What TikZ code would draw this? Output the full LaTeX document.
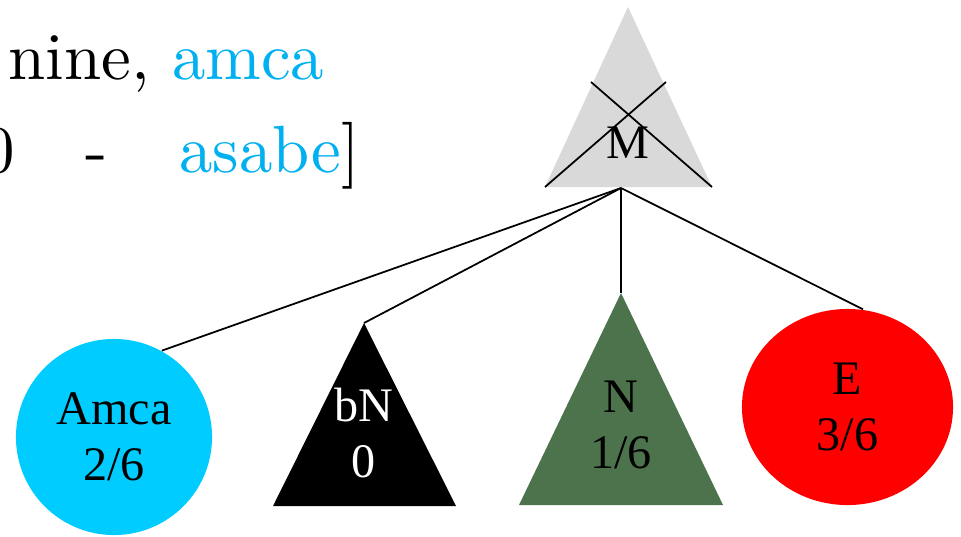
\documentclass[tikz,border=0pt]{standalone}
\usepackage{fontspec}
\newfontfamily\shapefont{Liberation Serif}
\newfontfamily\topfont{lmroman10-regular.otf}
\usetikzlibrary{shapes,positioning}
\definecolor{amcablue}{RGB}{0,176,240}
\definecolor{amcafill}{RGB}{0,204,255}
\definecolor{mgray}{RGB}{217,217,217}
\definecolor{ngreen}{RGB}{77,115,77}

\begin{document}
\begin{tikzpicture}[
    x=0.01cm, y=-0.01cm,
    shapetext/.style={font={\shapefont\fontsize{13.7pt}{16pt}\selectfont}, align=center, inner sep=0pt},
    toptext/.style={font={\topfont\fontsize{19pt}{23pt}\selectfont}, inner sep=0pt, anchor=base west},
    disc/.style={circle, shapetext, fill=amcafill, minimum size=1.96cm},
    oval/.style={ellipse, shapetext, fill=red, minimum width=2.11cm, minimum height=1.96cm},
    branch/.style={draw, line width=0.5pt}
]
\useasboundingbox (0,0) rectangle (961,536);

% Text
\node[toptext] (line1) at (8,79) {nine, \textcolor{amcablue}{amca}};
\node[toptext] (line2) at (-19,172) {0\hspace{0.7cm}-\hspace{0.72cm}\textcolor{amcablue}{asabe}]};

% Root
\fill[mgray] (628,7) -- (545,187) -- (712,187) -- cycle;
\draw[branch] (591,82) -- (712,187) (666,82) -- (545,187);
\node[shapetext] (m) at (628,143) {M};
\coordinate (mroot) at (621,188);

% Nodes
\node[disc] (amca) at (114,437) {Amca\\2/6};
\coordinate (bntop) at (364,323);
\fill (bntop) -- (273,506) -- (456,506) -- cycle;
\node[shapetext, text=white] (bn) at (364,433) {bN\\0};
\coordinate (ntop) at (621,293);
\fill[ngreen] (ntop) -- (519,505) -- (723,505) -- cycle;
\node[shapetext] (n) at (621,425) {N\\1/6};
\node[oval] (e) at (847.5,407) {E\\3/6};

% Lines
\draw[branch] (mroot) -- (amca.61);
\draw[branch] (mroot) -- (bntop);
\draw[branch] (mroot) -- (ntop);
\draw[branch] (mroot) -- (e.81);

\end{tikzpicture}
\end{document}
